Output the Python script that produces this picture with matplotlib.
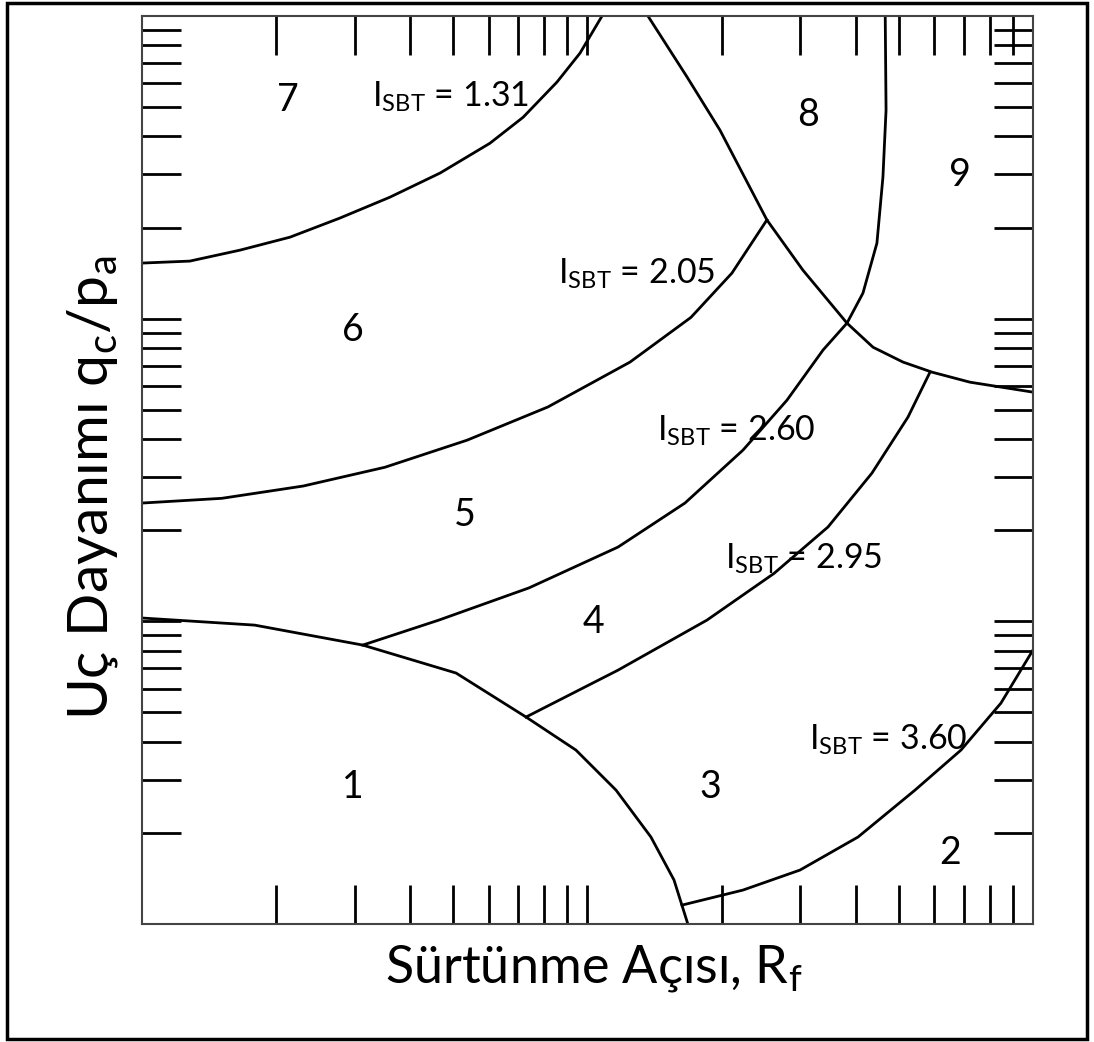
import matplotlib.pyplot as plt
from matplotlib.patches import Rectangle

plt.rcParams['font.family'] = ['Lato', 'DejaVu Sans']
plt.rcParams['mathtext.fontset'] = 'custom'
plt.rcParams['mathtext.rm'] = 'Lato'

# boundary curves: Rf (%) and qc/pa
isbt_131_rf = [0.1, 0.128, 0.166, 0.215, 0.278, 0.360, 0.467, 0.604, 0.717, 0.854, 0.962, 1.078]
isbt_131_q = [152.7, 155, 168.5, 186, 215, 252, 303, 380, 463, 605, 754, 1000]

isbt_205_rf = [0.1, 0.151, 0.23, 0.351, 0.537, 0.815, 1.246, 1.707, 2.11, 2.528]
isbt_205_q = [24.6, 25.5, 28.0, 32.3, 39.7, 51.1, 71.9, 101, 141.5, 212]

isbt_260_rf = [0.313, 0.464, 0.739, 1.171, 1.655, 2.234, 2.804, 3.379, 3.824,
               4.153, 4.464, 4.605, 4.68, 4.66]
isbt_260_q = [8.35, 10.1, 12.9, 17.6, 24.6, 36.8, 53.8, 78.8, 96.7,
              121.5, 177.7, 293.7, 489, 1000]

isbt_295_rf = [0.728, 1.171, 1.855, 2.622, 3.466, 4.351, 5.241, 5.874]
isbt_295_q = [4.83, 6.90, 10.1, 14.4, 20.5, 30.9, 47.3, 66.6]

isbt_360_rf = [1.63, 2.234, 3.0, 4.049, 5.435, 6.893, 8.475, 10.0]
isbt_360_q = [1.155, 1.295, 1.508, 1.939, 2.77, 3.757, 5.37, 8.04]

zone1_rf = [0.1, 0.179, 0.313, 0.507, 0.728, 0.942, 1.159, 1.388, 1.564, 1.68]
zone1_q = [10.26, 9.72, 8.35, 6.75, 4.83, 3.757, 2.77, 1.939, 1.398, 1.0]

zone8_rf = [1.367, 1.673, 1.983, 2.528, 3.045, 3.824, 4.375, 5.108, 5.934, 7.222, 10.0]
zone8_q = [1000, 629, 420, 212, 144.7, 96.7, 80.5, 71.9, 66.6, 61.7, 57.2]

# zone numbers
zone_names = ['1', '2', '3', '4', '5', '6', '7', '8', '9']
zone_rf = [0.298, 6.51, 1.89, 1.03, 0.531, 0.298, 0.212, 3.13, 6.86]
zone_q = [2.84, 1.72, 2.84, 9.95, 22.5, 91.7, 527, 471, 298]

# I_SBT labels
isbt_values = ['1.31', '2.05', '2.60', '2.95', '3.60']
isbt_rf = [0.328, 0.859, 1.432, 2.035, 3.14]
isbt_q = [505, 131, 39.7, 15.0, 3.78]

x_ticks = [m * 10.0 ** e for e in (-1, 0) for m in range(1, 10)][1:]
y_ticks = [m * 10.0 ** e for e in (0, 1, 2) for m in range(1, 10)][1:]

fig = plt.figure(figsize=(10.94, 10.42), dpi=100)
ax = fig.add_axes([0.1298, 0.1132, 0.8144, 0.8714])

curves = [(isbt_131_rf, isbt_131_q), (isbt_205_rf, isbt_205_q),
          (isbt_260_rf, isbt_260_q), (isbt_295_rf, isbt_295_q),
          (isbt_360_rf, isbt_360_q), (zone1_rf, zone1_q), (zone8_rf, zone8_q)]
for rf, q in curves:
    ax.plot(rf, q, color='black', lw=2, solid_joinstyle='round')

ax.set_xscale('log')
ax.set_yscale('log')
ax.set_xlim(0.1, 10)
ax.set_ylim(1, 1000)

ax.set_xticks(x_ticks)
ax.set_yticks(y_ticks)
ax.set_xticks([], minor=True)
ax.set_yticks([], minor=True)
ax.set_xticklabels([])
ax.set_yticklabels([])
ax.tick_params(which='both', direction='in', length=28, width=2,
               top=True, right=True, color='black')
for s in ax.spines.values():
    s.set_linewidth(1.5)
    s.set_color('#444444')

for name, rf, q in zip(zone_names, zone_rf, zone_q):
    ax.text(rf, q, name, fontsize=27, ha='center', va='center')

for val, rf, q in zip(isbt_values, isbt_rf, isbt_q):
    ax.text(rf, q, r'I$_\mathregular{SBT}$ = ' + val, fontsize=24.5,
            ha='left', va='baseline')

fig.text(0.543, 0.071, r'Sürtünme Açısı, R$_\mathregular{f}$', fontsize=37.5,
         ha='center', va='center')
fig.text(0.085, 0.532, r'Uç Dayanımı q$_\mathregular{c}$/p$_\mathregular{a}$',
         fontsize=41, ha='center', va='center', rotation=90)

fig.patches.append(Rectangle((0.006, 0.003), 0.988, 0.994, transform=fig.transFigure,
                             fill=False, edgecolor='black', lw=2.5))

fig.savefig('out.png', dpi=100)
